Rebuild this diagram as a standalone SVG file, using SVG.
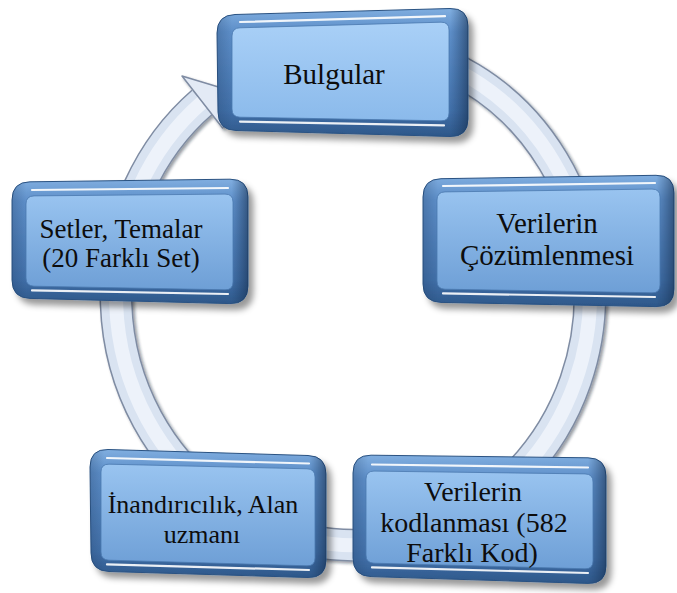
<svg xmlns="http://www.w3.org/2000/svg" width="677" height="593" viewBox="0 0 677 593">
<defs>
<linearGradient id="rim" x1="0" y1="0" x2="0" y2="1">
<stop offset="0" stop-color="#80aee0"/>
<stop offset="0.18" stop-color="#5d8ec8"/>
<stop offset="0.8" stop-color="#416fa8"/>
<stop offset="1" stop-color="#2d5789"/>
</linearGradient>
<linearGradient id="rimSide" x1="0" y1="0" x2="1" y2="0">
<stop offset="0" stop-color="#1d3a60" stop-opacity="0.25"/>
<stop offset="0.06" stop-color="#1d3a60" stop-opacity="0"/>
<stop offset="0.93" stop-color="#1d3a60" stop-opacity="0"/>
<stop offset="1" stop-color="#132a48" stop-opacity="0.55"/>
</linearGradient>
<linearGradient id="panel" x1="0" y1="0" x2="0" y2="1">
<stop offset="0" stop-color="#99c4f0"/>
<stop offset="1" stop-color="#6e9fd6"/>
</linearGradient>
<linearGradient id="panelLight" x1="0" y1="0" x2="0" y2="1">
<stop offset="0" stop-color="#a9d0f7"/>
<stop offset="1" stop-color="#8bbaeb"/>
</linearGradient>
<filter id="sh" x="-10%" y="-10%" width="125%" height="130%">
<feDropShadow dx="5" dy="6" stdDeviation="3" flood-color="#000" flood-opacity="0.4"/>
</filter>
<filter id="ringsh" x="-10%" y="-10%" width="120%" height="120%">
<feDropShadow dx="2" dy="2" stdDeviation="1.5" flood-color="#1a2333" flood-opacity="0.45"/>
</filter>
</defs>
<style>
.outer{fill:url(#rim);stroke:#2a5282;stroke-width:1}
.side{fill:url(#rimSide)}
.inner{fill:url(#panel);stroke:#4a78ae;stroke-width:0.8}
.innerL{fill:url(#panelLight);stroke:#4a78ae;stroke-width:0.8}
.hl{fill:none;stroke:#ffffff;stroke-width:2.2;stroke-linecap:round;opacity:0.9}
.t{font-family:"Liberation Serif","DejaVu Serif",serif;fill:#0d0d0d;text-anchor:middle}
.b1{fill:none;stroke:#7f8ca3;stroke-width:33}
.b2{fill:none;stroke:#d9e3f1;stroke-width:30}
.b3{fill:none;stroke:#edf2fa;stroke-width:14}
</style>
<rect width="677" height="593" fill="#ffffff"/>
<g id="connectors" filter="url(#ringsh)">
<path class="b1" d="M373.7,46 A237,250 0 1 1 202.3,102.1"/>
<path class="b2" d="M373.7,46 A237,250 0 1 1 202.3,102.1"/>
<path class="b3" d="M373.7,46 A237,250 0 1 1 202.3,102.1"/>
<polygon points="182,76 245,95 222.6,128" fill="#e3eaf5" stroke="#7f8ca3" stroke-width="1.5" stroke-linejoin="round"/>
</g>
<g id="node-bulgular">
<g filter="url(#sh)">
<path class="outer" d="M235,14.5 L450,8.5 Q468,8 468,26 L468,119 Q468,137 450,136.5 L236,130.5 Q218,130 218,112 L217,33 Q217,15 235,14.5 Z"/>
</g>
<path class="side" d="M235,14.5 L450,8.5 Q468,8 468,26 L468,119 Q468,137 450,136.5 L236,130.5 Q218,130 218,112 L217,33 Q217,15 235,14.5 Z"/>
<path class="innerL" d="M240,27.8 L441,22.2 Q449,22 449,30 L449,113 Q449,121 441,120.8 L240,117.2 Q232,117 232,109 L232,36 Q232,28 240,27.8 Z"/>
<path class="hl" d="M240,22 L445,16.2"/>
<path class="hl" d="M240,121.6 L444,125.4"/>
<text class="t" x="334" y="84" font-size="29">Bulgular</text>
</g>
<g id="node-cozumlenmesi">
<g filter="url(#sh)">
<path class="outer" d="M441,178.7 L656,175.3 Q674,175 674,193 L674,289 Q674,307 656,306.6 L441,302.4 Q423,302 423,284 L423,197 Q423,179 441,178.7 Z"/>
</g>
<path class="side" d="M441,178.7 L656,175.3 Q674,175 674,193 L674,289 Q674,307 656,306.6 L441,302.4 Q423,302 423,284 L423,197 Q423,179 441,178.7 Z"/>
<path class="inner" d="M445,191.9 L652,189.1 Q660,189 660,197 L660,285 Q660,293 652,292.8 L445,289.2 Q437,289 437,281 L437,200 Q437,192 445,191.9 Z"/>
<path class="hl" d="M443,186 L655,183"/>
<path class="hl" d="M443,293.4 L655,297"/>
<text class="t" x="547" y="233" font-size="29">Verilerin</text>
<text class="t" x="547" y="265" font-size="29">Çözümlenmesi</text>
</g>
<g id="node-kodlanmasi">
<g filter="url(#sh)">
<path class="outer" d="M371,455.2 L588,457.8 Q606,458 606,476 L606,566 Q606,584 588,583.4 L371,576.6 Q353,576 353,558 L353,473 Q353,455 371,455.2 Z"/>
</g>
<path class="side" d="M371,455.2 L588,457.8 Q606,458 606,476 L606,566 Q606,584 588,583.4 L371,576.6 Q353,576 353,558 L353,473 Q353,455 371,455.2 Z"/>
<path class="inner" d="M374,471.1 L585,473.9 Q593,474 593,482 L593,561 Q593,569 585,568.8 L374,563.2 Q366,563 366,555 L366,479 Q366,471 374,471.1 Z"/>
<path class="hl" d="M372,464.5 L588,467.5"/>
<path class="hl" d="M372,567.4 L588,573"/>
<text class="t" x="473" y="501" font-size="28">Verilerin</text>
<text class="t" x="474" y="532" font-size="28">kodlanması (582</text>
<text class="t" x="472" y="562" font-size="28">Farklı Kod)</text>
</g>
<g id="node-inandiricilik">
<g filter="url(#sh)">
<path class="outer" d="M108,449.5 L308,455.5 Q326,456 326,474 L326,560 Q326,578 308,577.5 L109,571.5 Q91,571 91,553 L90,467 Q90,449 108,449.5 Z"/>
</g>
<path class="side" d="M108,449.5 L308,455.5 Q326,456 326,474 L326,560 Q326,578 308,577.5 L109,571.5 Q91,571 91,553 L90,467 Q90,449 108,449.5 Z"/>
<path class="inner" d="M109,464.2 L307,468.8 Q315,469 315,477 L315,558 Q315,566 307,565.8 L109,560.2 Q101,560 101,552 L101,472 Q101,464 109,464.2 Z"/>
<path class="hl" d="M107,458 L309,463.5"/>
<path class="hl" d="M107,564.4 L309,570"/>
<text class="t" x="203" y="513" font-size="26">İnandırıcılık, Alan</text>
<text class="t" x="202" y="543" font-size="26">uzmanı</text>
</g>
<g id="node-setler">
<g filter="url(#sh)">
<path class="outer" d="M30,181.8 L230,179.2 Q248,179 248,197 L248,286 Q248,304 230,303.6 L30,298.4 Q12,298 12,280 L12,200 Q12,182 30,181.8 Z"/>
</g>
<path class="side" d="M30,181.8 L230,179.2 Q248,179 248,197 L248,286 Q248,304 230,303.6 L30,298.4 Q12,298 12,280 L12,200 Q12,182 30,181.8 Z"/>
<path class="inner" d="M34,195.9 L225,194.1 Q233,194 233,202 L233,282 Q233,290 225,289.8 L34,286.2 Q26,286 26,278 L26,204 Q26,196 34,195.9 Z"/>
<path class="hl" d="M32,190 L228,188"/>
<path class="hl" d="M32,290.4 L228,294"/>
<text class="t" x="121" y="238" font-size="27">Setler, Temalar</text>
<text class="t" x="121" y="267" font-size="27">(20 Farklı Set)</text>
</g>
</svg>
